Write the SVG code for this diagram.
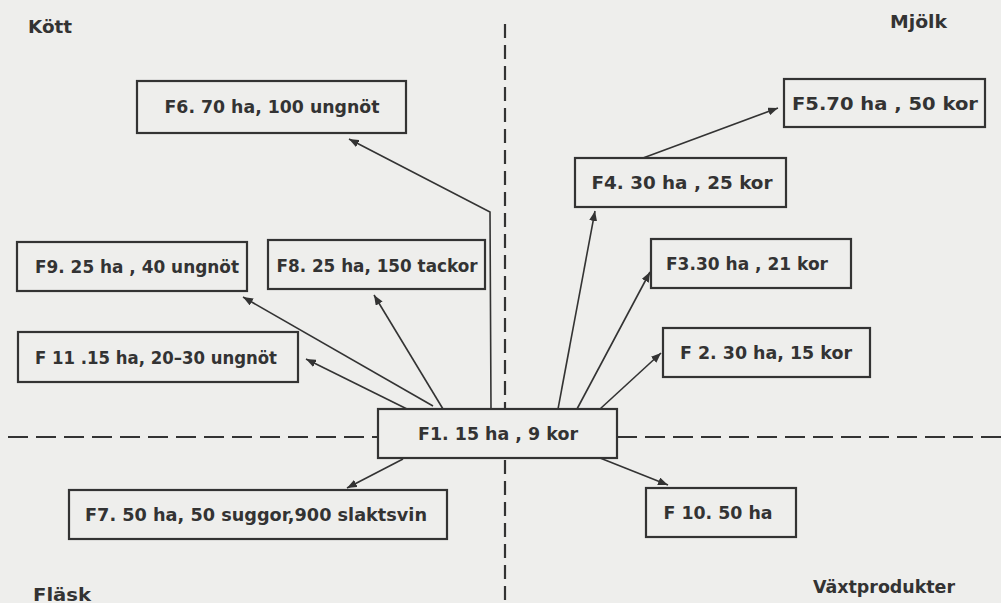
<svg xmlns="http://www.w3.org/2000/svg" width="1001" height="603" viewBox="0 0 1001 603">
<defs>
<marker id="ah" viewBox="0 0 10 8" refX="10" refY="4" markerWidth="10" markerHeight="8" markerUnits="userSpaceOnUse" orient="auto">
<path d="M0,0 L10,4 L0,8 z" fill="#333"/>
</marker>
<style>
.bx{fill:none;stroke:#333;stroke-width:2.2}
.t{font-family:"DejaVu Sans",sans-serif;font-weight:bold;font-size:18px;fill:#333;text-anchor:middle}
.q{font-family:"DejaVu Sans",sans-serif;font-weight:bold;font-size:18px;fill:#333}
.ar{fill:none;stroke:#333;stroke-width:1.6;marker-end:url(#ah)}
.dv{stroke:#333;stroke-width:2.2;stroke-dasharray:14 7;fill:none}
.dh{stroke:#333;stroke-width:2.2;stroke-dasharray:20 8;fill:none}
</style>
</defs>
<rect width="1001" height="603" fill="#eeeeec"/>
<g id="axes">
<line class="dv" x1="505" y1="24" x2="505" y2="409"/>
<line class="dv" x1="505" y1="460" x2="505" y2="603"/>
<line class="dh" x1="8" y1="437" x2="378" y2="437"/>
<line class="dh" x1="617" y1="437" x2="1001" y2="437"/>
</g>
<g id="quadrant-labels">
<text class="q" x="28" y="33" textLength="44" lengthAdjust="spacingAndGlyphs">Kött</text>
<text class="q" x="890" y="28" textLength="57" lengthAdjust="spacingAndGlyphs">Mjölk</text>
<text class="q" x="33" y="601" textLength="58" lengthAdjust="spacingAndGlyphs">Fläsk</text>
<text class="q" x="813" y="593" textLength="142" lengthAdjust="spacingAndGlyphs">Växtprodukter</text>
</g>
<g id="connectors">
<polyline class="ar" points="491,409 490,212 349,139"/>
<line class="ar" x1="443" y1="409" x2="374" y2="295"/>
<line class="ar" x1="433" y1="406" x2="243" y2="297"/>
<line class="ar" x1="407" y1="409" x2="306" y2="359"/>
<line class="ar" x1="558" y1="409" x2="595" y2="211"/>
<line class="ar" x1="577" y1="409" x2="650" y2="272"/>
<line class="ar" x1="600" y1="409" x2="661" y2="353"/>
<line class="ar" x1="643" y1="158" x2="778" y2="108"/>
<line class="ar" x1="403" y1="459" x2="347" y2="488"/>
<line class="ar" x1="600" y1="458" x2="668" y2="485"/>
</g>
<g id="F1"><rect class="bx" x="378" y="409" width="239" height="49"/><text class="t" x="498" y="440" textLength="160" lengthAdjust="spacingAndGlyphs">F1. 15 ha , 9 kor</text></g>
<g id="F2"><rect class="bx" x="663" y="328" width="207" height="49"/><text class="t" x="766" y="359" textLength="172" lengthAdjust="spacingAndGlyphs">F 2. 30 ha, 15 kor</text></g>
<g id="F3"><rect class="bx" x="651" y="239" width="200" height="49"/><text class="t" x="747" y="270" textLength="162" lengthAdjust="spacingAndGlyphs">F3.30 ha , 21 kor</text></g>
<g id="F4"><rect class="bx" x="575" y="158" width="211" height="49"/><text class="t" x="682" y="189" textLength="181" lengthAdjust="spacingAndGlyphs">F4. 30 ha , 25 kor</text></g>
<g id="F5"><rect class="bx" x="784" y="79" width="201" height="48"/><text class="t" x="885" y="110" textLength="186" lengthAdjust="spacingAndGlyphs">F5.70 ha , 50 kor</text></g>
<g id="F6"><rect class="bx" x="137" y="81" width="269" height="52"/><text class="t" x="272" y="113" textLength="215" lengthAdjust="spacingAndGlyphs">F6. 70 ha, 100 ungnöt</text></g>
<g id="F7"><rect class="bx" x="69" y="490" width="378" height="49"/><text class="t" x="256" y="521" textLength="342" lengthAdjust="spacingAndGlyphs">F7. 50 ha, 50 suggor,900 slaktsvin</text></g>
<g id="F8"><rect class="bx" x="268" y="240" width="217" height="49"/><text class="t" x="377" y="272" textLength="201" lengthAdjust="spacingAndGlyphs">F8. 25 ha, 150 tackor</text></g>
<g id="F9"><rect class="bx" x="17" y="242" width="230" height="49"/><text class="t" x="137" y="273" textLength="204" lengthAdjust="spacingAndGlyphs">F9. 25 ha , 40 ungnöt</text></g>
<g id="F10"><rect class="bx" x="646" y="488" width="150" height="49"/><text class="t" x="718" y="519" textLength="109" lengthAdjust="spacingAndGlyphs">F 10. 50 ha</text></g>
<g id="F11"><rect class="bx" x="18" y="332" width="280" height="50"/><text class="t" x="156" y="364" textLength="242" lengthAdjust="spacingAndGlyphs">F 11 .15 ha, 20–30 ungnöt</text></g>
</svg>
